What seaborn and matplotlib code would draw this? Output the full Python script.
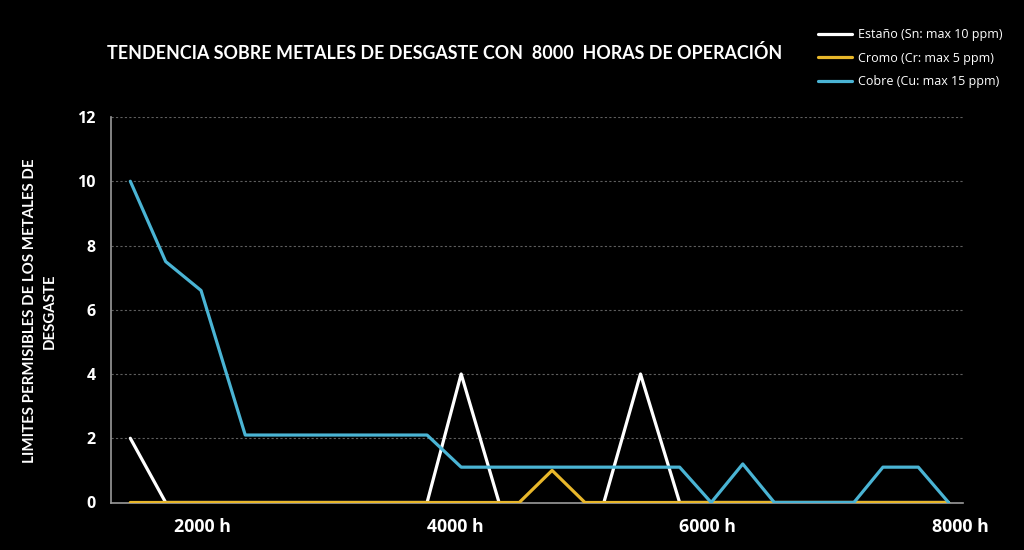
import matplotlib
matplotlib.use("Agg")
import matplotlib.pyplot as plt
import seaborn as sns
import pandas as pd
import numpy as np

# ---- data; None = no reading (gap in line) ----
hours = [1430, 1710, 1990, 2340, 3780, 4050, 4350, 4510, 4770, 5030,
         5180, 5470, 5780, 6030, 6280, 6530, 7160, 7390, 7670, 7910]
estano = [2, 0, 0, 0, 0, 4, 0, None, None, None,
          0, 4, 0, 0, 0, 0, 0, 0, 0, 0]
cromo = [0, 0, 0, 0, 0, 0, 0, 0, 1, 0,
         0, 0, 0, 0, 0, 0, 0, 0, 0, 0]
cobre = [10, 7.5, 6.6, 2.1, 2.1, 1.1, 1.1, 1.1, 1.1, 1.1,
         1.1, 1.1, 1.1, 0, 1.2, 0, 0, 1.1, 1.1, 0]

series_names = ["Estaño (Sn: max 10 ppm)", "Cromo (Cr: max 5 ppm)", "Cobre (Cu: max 15 ppm)"]
series_colors = ["#FFFFFF", "#E8B72A", "#4AB4D4"]
x_ticks = [2000, 4000, 6000, 8000]
x_tick_labels = ["2000 h", "4000 h", "6000 h", "8000 h"]
y_ticks = [0, 2, 4, 6, 8, 10, 12]
title_text = "TENDENCIA SOBRE METALES DE DESGASTE CON  8000  HORAS DE OPERACIÓN"
ylabel_text = "LIMITES PERMISIBLES DE LOS METALES DE\nDESGASTE"

frames = []
for name, vals in zip(series_names, [estano, cromo, cobre]):
    v = pd.Series(vals, dtype="float")
    frames.append(pd.DataFrame({
        "horas": hours,
        "valor": v,
        "metal": name,
        "tramo": v.isna().cumsum(),   # split the line where readings are missing
    }))
df = pd.concat(frames, ignore_index=True).dropna(subset=["valor"])
df["unidad"] = df["metal"] + "_" + df["tramo"].astype(str)

sns.set_style("dark", {"axes.facecolor": "black", "figure.facecolor": "black",
                       "axes.edgecolor": "#9a9a9a", "text.color": "white",
                       "xtick.color": "white", "ytick.color": "white"})
plt.rcParams["font.family"] = ["Open Sans", "DejaVu Sans"]

W, H = 1024, 550
fig = plt.figure(figsize=(W / 100, H / 100), dpi=100, facecolor="black")
L, R, T, B = 111, 963, 117, 502.5
ax = fig.add_axes([L / W, 1 - B / H, (R - L) / W, (B - T) / H])
ax.set_facecolor("black")

sns.lineplot(data=df, x="horas", y="valor", hue="metal", hue_order=series_names,
             units="unidad", palette=dict(zip(series_names, series_colors)), linewidth=2.3,
             estimator=None, sort=False, ax=ax)
for ln in ax.lines:
    ln.set_zorder(3)

ax.set_xlim(1277, 8024)
ax.set_ylim(0, 12)
ax.set_xticks(x_ticks)
ax.set_xticklabels(x_tick_labels)
ax.set_yticks(y_ticks)
ax.set_xlabel("")
ax.set_ylabel("")
ax.tick_params(axis="x", length=0, pad=11, labelsize=12.8, labelcolor="white")
ax.tick_params(axis="y", length=0, pad=11, labelsize=11.5, labelcolor="white")
for lab in ax.get_xticklabels() + ax.get_yticklabels():
    lab.set_fontweight("bold")

ax.grid(False)
ax.yaxis.grid(True, color="#5e5e5e", linestyle=(0, (2, 2)), linewidth=0.8)
ax.set_axisbelow(True)
for s in ["top", "right"]:
    ax.spines[s].set_visible(False)
for s in ["left", "bottom"]:
    ax.spines[s].set_color("#9a9a9a")
    ax.spines[s].set_linewidth(1.2)

handles, labels = ax.get_legend_handles_labels()
if ax.get_legend() is not None:
    ax.get_legend().remove()
fig.legend(handles, labels, loc="upper left", bbox_to_anchor=(818 / W, 1 - 28 / H),
           frameon=False, borderpad=0, borderaxespad=0, handlelength=2.7,
           handletextpad=0.5, labelspacing=0.85, prop={"family": ["Open Sans", "DejaVu Sans"], "size": 9},
           labelcolor="white")

fig.text(444.5 / W, 1 - 53 / H, title_text, ha="center", va="center", color="white",
         fontsize=12.9, fontweight="bold", family=["Lato", "DejaVu Sans"])
fig.text(40 / W, 1 - 311 / H, ylabel_text, ha="center", va="center", color="white",
         rotation=90, multialignment="center", fontsize=10.8, fontweight="bold",
         linespacing=1.5, family=["Lato", "DejaVu Sans"])

fig.savefig("out.png", dpi=100, facecolor="black")
